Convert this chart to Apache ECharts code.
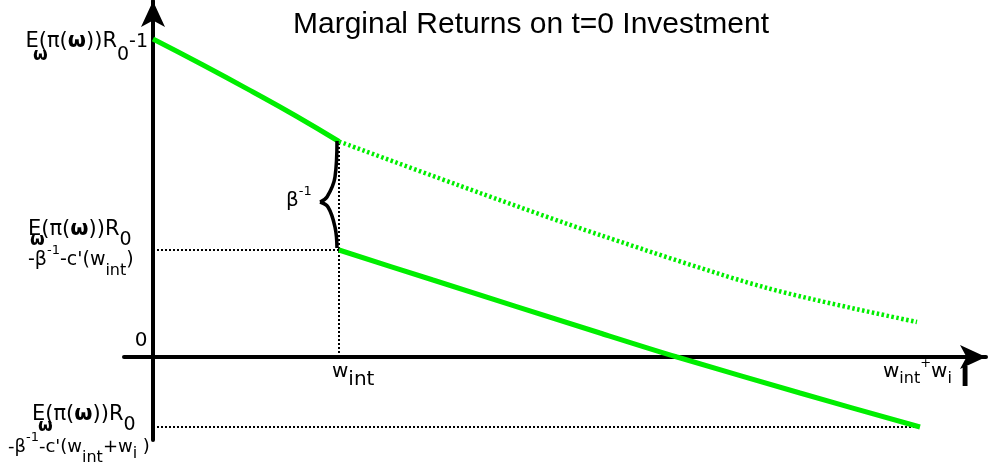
<!DOCTYPE html>
<html><head><meta charset="utf-8">
<script src="https://cdn.jsdelivr.net/npm/echarts@6/dist/echarts.min.js"></script>
<style>html,body{margin:0;padding:0;background:#fff}#c{width:989px;height:469px}</style>
</head><body><div id="c"></div>
<script>
// ---- data (conceptual units) ----
const upperSolidX = [0, 0.5, 1.0, 1.43, 1.86];
const upperSolidY = [3.18, 2.92, 2.65, 2.41, 2.155];
const upperDottedX = [1.86, 3.27, 4.47, 6.14, 7.64];
const upperDottedY = [2.155, 1.64, 1.22, 0.69, 0.35];
const lowerX = [1.86, 2.8, 4.47, 5.24, 6.47, 7.67];
const lowerY = [1.07, 0.77, 0.24, 0, -0.36, -0.70];
const braceTopX = [1.84, 1.82, 1.74, 1.67];
const braceTopY = [2.16, 1.80, 1.60, 1.55];
const braceBotX = [1.67, 1.75, 1.82, 1.84];
const braceBotY = [1.55, 1.50, 1.30, 1.09];
const wInt = 1.86;
const wEnd = 7.67;
const yTop = 3.18;
const yMid = 1.07;
const yBottom = -0.70;
const xRange = [-0.29, 8.33];
const yRange = [-0.83, 3.56];

const zip = (xs, ys) => xs.map((x, i) => [x, ys[i]]);
const GREEN = '#00ee00';
const chart = echarts.init(document.getElementById('c'), null, {renderer: 'canvas'});

const guide = (data) => ({
  type: 'line', data, symbol: 'none', silent: true, z: 1,
  lineStyle: {color: '#000', width: 2, type: [2, 2]}
});
const axisCommon = {
  type: 'value', splitLine: {show: false}, axisTick: {show: false}, axisLabel: {show: false},
  axisLine: {onZero: true, symbol: ['none', 'arrow'], symbolSize: [18, 26],
    lineStyle: {color: '#000', width: 4}}
};

chart.setOption({
  animation: false,
  backgroundColor: '#fff',
  grid: {left: 124, right: 3, top: 1, bottom: 29},
  xAxis: Object.assign({}, axisCommon, {min: xRange[0], max: xRange[1]}),
  yAxis: Object.assign({}, axisCommon, {min: yRange[0], max: yRange[1]}),
  series: [
    guide([[0, yMid], [wInt, yMid]]),
    guide([[wInt, 0], [wInt, upperSolidY[upperSolidY.length - 1]]]),
    guide([[0, yBottom], [wEnd, yBottom]]),
    {type: 'line', data: zip(upperSolidX, upperSolidY), smooth: 0.5, symbol: 'none', z: 3,
      lineStyle: {color: GREEN, width: 5}},
    {type: 'line', data: zip(upperDottedX, upperDottedY), smooth: 0.3, symbol: 'none', z: 3,
      lineStyle: {color: GREEN, width: 4.5, type: [2.5, 2.5]}},
    {type: 'line', data: zip(lowerX, lowerY), smooth: 0.3, symbol: 'none', z: 3,
      lineStyle: {color: GREEN, width: 5}},
    {type: 'line', data: zip(braceTopX, braceTopY), smooth: 0.4, symbol: 'none', z: 4,
      lineStyle: {color: '#000', width: 3.5}},
    {type: 'line', data: zip(braceBotX, braceBotY), smooth: 0.4, symbol: 'none', z: 4,
      lineStyle: {color: '#000', width: 3.5}}
  ]
});

const px = (x) => chart.convertToPixel({xAxisIndex: 0}, x);
const py = (y) => chart.convertToPixel({yAxisIndex: 0}, y);
const FONT = 'DejaVu Sans';
const st = (o) => Object.assign({fontFamily: FONT, fill: '#000'}, o);
const rich = {
  b: st({fontSize: 21, fontWeight: 'bold'}),
  sA: st({fontSize: 19, padding: [26, 0, 0, 0]}),
  m1: st({fontSize: 19}),
  sb: st({fontSize: 19, padding: [20, 0, 0, 0]}),
  si: st({fontSize: 16, padding: [22, 0, 0, 0]}),
  sx: st({fontSize: 20, padding: [16, 0, 0, 0]}),
  se: st({fontSize: 16, padding: [14, 0, 0, 0]}),
  pe: st({fontSize: 13, padding: [0, 0, 16, 0]}),
  sp: st({fontSize: 13, padding: [0, 0, 18, 0]})
};
const T = (text, x, y, align, size, extra) => ({
  type: 'text', x, y, silent: true, z: 10,
  style: Object.assign({text, fontFamily: FONT, fontSize: size || 20, fill: '#000',
    align: align || 'left', verticalAlign: 'middle', rich}, extra || {})
});
const x0 = px(0), yT = py(yTop), yM = py(yMid), yB = py(yBottom), y0 = py(0);
const xW = px(wInt), xE = px(wEnd);
const omega = (x, y) => T('ω', x, y, 'left', 17, {fontWeight: 'bold'});

chart.setOption({
  graphic: [
    T('Marginal Returns on t=0 Investment', 531, 25, 'center', 30, {fontFamily: 'Liberation Sans'}),
    // top y label
    T('E(π({b|ω}))R{sA|0}{m1|-1}', x0 - 5, yT + 3, 'right', 21),
    omega(x0 - 120, yT + 17),
    // middle y label
    T('E(π({b|ω}))R{sb|0}', x0 - 125, yM - 20, 'left', 21),
    omega(x0 - 123, yM - 9),
    T('-β{sp|-1}-c\'(w{si|int})', x0 - 125, yM + 10, 'left', 19),
    // zero
    T('0', x0 - 12, y0 - 16, 'center', 20),
    // bottom y label
    T('E(π({b|ω}))R{sb|0}', x0 - 121, yB - 12, 'left', 21),
    omega(x0 - 115, yB + 0),
    T('-β{sp|-1}-c\'(w{si|int}+w{se|i} )', x0 - 145, yB + 20, 'left', 18),
    // brace label
    T('β{sp|-1}', xW - 53, py(1.55) - 1, 'left', 20),
    // x labels
    T('w{sx|int}', xW - 7, y0 + 15, 'left', 20),
    T('w{se|int}{pe|+}w{se|i}', xE - 37, y0 + 15, 'left', 20),
    T('I', xE + 45, y0 + 22, 'center', 26, {fontWeight: 'bold'})
  ]
});
</script>
</body></html>
